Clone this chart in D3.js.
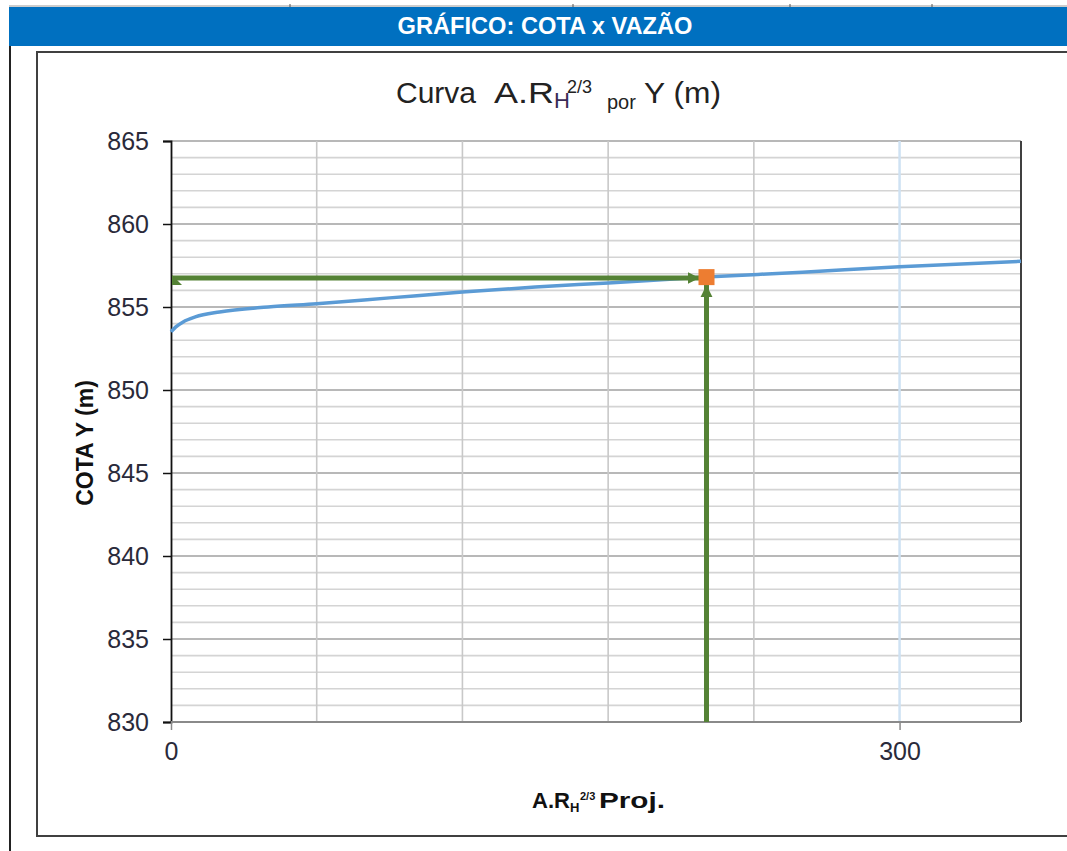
<!DOCTYPE html>
<html>
<head>
<meta charset="utf-8">
<script src="https://cdn.jsdelivr.net/npm/d3@7.9.0/dist/d3.min.js"></script>
<style>
  body { margin: 0; background: #fff; }
  svg { display: block; font-family: "Liberation Sans", Arial, sans-serif; }
</style>
</head>
<body>
<svg id="chart" width="1067" height="851"></svg>
<script>
// curve A.RH^2/3 (x) vs cota Y (m)
const areaRh = [0, 2, 5, 10, 20, 40, 60, 90, 120, 150, 180, 220, 260, 300, 350];
const cotaY  = [853.5, 853.8, 854.1, 854.4, 854.7, 855.0, 855.2, 855.55, 855.9, 856.2, 856.45, 856.8, 857.1, 857.43, 857.75];

// projected point
const projX = 220.5;
const projY = 856.8;

const xTicks = [0, 300];
const xGrid = [60, 120, 180, 240];
const yTicks = [830, 835, 840, 845, 850, 855, 860, 865];
const yMinor = d3.range(831, 866, 1);

const svg = d3.select('#chart');

// header bar
svg.append('line').attr('x1', 9).attr('x2', 1067).attr('y1', 6).attr('y2', 6)
  .attr('stroke', '#9a9a9a').attr('stroke-width', 1);
[290, 573, 790, 932].forEach(d => {
  svg.append('line').attr('x1', d).attr('x2', d).attr('y1', 4).attr('y2', 8)
    .attr('stroke', '#555').attr('stroke-width', 1);
});
svg.append('rect').attr('x', 9).attr('y', 7).attr('width', 1058).attr('height', 39)
  .attr('fill', '#0070c0');
svg.append('text').attr('x', 545).attr('y', 34).attr('text-anchor', 'middle')
  .attr('fill', '#fff').attr('font-weight', 'bold').attr('font-size', 23)
  .attr('font-family', '"Liberation Sans Narrow", "Liberation Sans", Arial, sans-serif')
  .attr('textLength', 295).attr('lengthAdjust', 'spacingAndGlyphs')
  .text('GRÁFICO: COTA x VAZÃO');

// page border + chart box
svg.append('line').attr('x1', 10).attr('x2', 10).attr('y1', 46).attr('y2', 851)
  .attr('stroke', '#222').attr('stroke-width', 2);
svg.append('rect').attr('x', 37).attr('y', 52).attr('width', 1040).attr('height', 784)
  .attr('fill', '#fff').attr('stroke', '#404040').attr('stroke-width', 2);

const x = d3.scaleLinear().domain([0, 350]).range([171, 1021]);
const y = d3.scaleLinear().domain([830, 865]).range([722, 141]);

// gridlines
svg.append('g').selectAll('line').data(yMinor).join('line')
  .attr('x1', x(0)).attr('x2', x(350))
  .attr('y1', d => y(d)).attr('y2', d => y(d))
  .attr('stroke', d => d % 5 === 0 ? '#a0a0a0' : '#d4d4d4')
  .attr('stroke-width', 1.6);
svg.append('g').selectAll('line').data(xGrid).join('line')
  .attr('x1', d => x(d)).attr('x2', d => x(d))
  .attr('y1', y(830)).attr('y2', y(865))
  .attr('stroke', '#c8c8c8').attr('stroke-width', 1.6);
svg.append('line').attr('x1', x(300)).attr('x2', x(300))
  .attr('y1', y(830)).attr('y2', y(865))
  .attr('stroke', '#cfe2f3').attr('stroke-width', 2.5);

// right border of plot
svg.append('line').attr('x1', x(350)).attr('x2', x(350))
  .attr('y1', y(865)).attr('y2', y(830))
  .attr('stroke', '#404040').attr('stroke-width', 2);

// axes
const yAxis = svg.append('g').attr('transform', `translate(${x(0)},0)`)
  .call(d3.axisLeft(y).tickValues(yTicks).tickSize(8).tickPadding(14).tickFormat(d3.format('d')));
yAxis.select('.domain').attr('stroke', '#111').attr('stroke-width', 1.8);
yAxis.selectAll('.tick line').attr('stroke', '#111').attr('stroke-width', 1.5);
yAxis.selectAll('.tick text').attr('font-size', 25).attr('fill', '#2a2a3a')
  .attr('font-family', '"Liberation Sans", Arial, sans-serif');

const xAxis = svg.append('g').attr('transform', `translate(0,${y(830)})`)
  .call(d3.axisBottom(x).tickValues(xTicks).tickSize(8).tickPadding(12).tickFormat(d3.format('d')));
xAxis.select('.domain').attr('stroke', '#8a8a8a').attr('stroke-width', 1.8)
  .attr('d', `M${x(0)},0H${x(350)}`);
xAxis.selectAll('.tick line').attr('stroke', '#8a8a8a').attr('stroke-width', 1.5);
xAxis.selectAll('.tick text').attr('font-size', 25).attr('fill', '#2a2a3a')
  .attr('font-family', '"Liberation Sans", Arial, sans-serif');

// curve
const curveData = areaRh.map((d, i) => [d, cotaY[i]]);
svg.append('path').datum(curveData)
  .attr('fill', 'none').attr('stroke', '#5b9bd5').attr('stroke-width', 3.5)
  .attr('d', d3.line().x(d => x(d[0])).y(d => y(d[1])).curve(d3.curveMonotoneX));

// arrow markers
const defs = svg.append('defs');
defs.append('marker').attr('id', 'arrow').attr('viewBox', '0 0 10 10')
  .attr('refX', 10).attr('refY', 5).attr('markerWidth', 12).attr('markerHeight', 14)
  .attr('markerUnits', 'userSpaceOnUse').attr('orient', 'auto')
  .append('path').attr('d', 'M0,0L10,5L0,10Z').attr('fill', '#548235');
defs.append('marker').attr('id', 'arrowStart').attr('viewBox', '0 0 10 10')
  .attr('refX', 0).attr('refY', 3).attr('markerWidth', 10).attr('markerHeight', 12)
  .attr('markerUnits', 'userSpaceOnUse').attr('orient', 'auto')
  .append('path').attr('d', 'M0,0L0,10L10,10Z').attr('fill', '#548235');

const green = svg.append('g').attr('fill', 'none').attr('stroke', '#548235').attr('stroke-width', 5);
green.append('line')
  .attr('x1', x(0) + 1).attr('x2', x(projX) - 7)
  .attr('y1', y(projY) + 1).attr('y2', y(projY) + 1)
  .attr('marker-start', 'url(#arrowStart)').attr('marker-end', 'url(#arrow)');
green.append('line')
  .attr('x1', x(projX)).attr('x2', x(projX))
  .attr('y1', y(830)).attr('y2', y(projY) + 8)
  .attr('marker-end', 'url(#arrow)');

// projected point
svg.append('rect')
  .attr('x', x(projX) - 8).attr('y', y(projY) - 8)
  .attr('width', 16).attr('height', 16).attr('fill', '#ed7d31');

// title
const title = svg.append('text').attr('y', 103)
  .attr('font-size', 30).attr('fill', '#222');
title.append('tspan').attr('x', 396).text('Curva');
title.append('tspan').attr('x', 494).attr('textLength', 60).attr('lengthAdjust', 'spacingAndGlyphs').text('A.R');
title.append('tspan').attr('x', 554).attr('y', 108).attr('font-size', 22).attr('fill', '#3a2a55').text('H');
title.append('tspan').attr('x', 567).attr('y', 93).attr('font-size', 18).text('2/3');
title.append('tspan').attr('x', 607).attr('y', 109).attr('font-size', 20).text('por');
title.append('tspan').attr('x', 644).attr('y', 103).attr('textLength', 77).attr('lengthAdjust', 'spacingAndGlyphs').text('Y (m)');

// axis titles
svg.append('text')
  .attr('transform', `translate(93,${443}) rotate(-90)`)
  .attr('text-anchor', 'middle').attr('font-size', 23).attr('font-weight', 'bold')
  .attr('fill', '#111').text('COTA Y (m)');

const xt = svg.append('text').attr('y', 808)
  .attr('font-size', 22).attr('font-weight', 'bold').attr('fill', '#111');
xt.append('tspan').attr('x', 532).attr('textLength', 38).attr('lengthAdjust', 'spacingAndGlyphs').text('A.R');
xt.append('tspan').attr('x', 570).attr('y', 812).attr('font-size', 13).text('H');
xt.append('tspan').attr('x', 580).attr('y', 800).attr('font-size', 11).text('2/3');
xt.append('tspan').attr('x', 599).attr('y', 808)
  .attr('textLength', 66).attr('lengthAdjust', 'spacingAndGlyphs').text('Proj.');
</script>
</body>
</html>
